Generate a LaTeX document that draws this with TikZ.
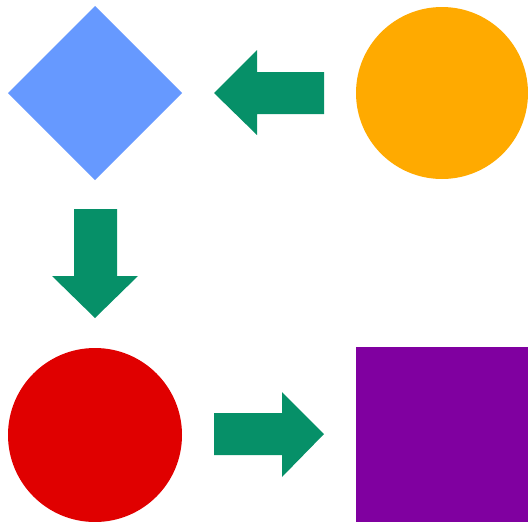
\documentclass[tikz,border=0pt]{standalone}
\usetikzlibrary{shapes.geometric}
\definecolor{bluedia}{HTML}{6699FF}
\definecolor{orangedot}{HTML}{FFAA00}
\definecolor{reddot}{HTML}{E00000}
\definecolor{purplebox}{HTML}{8000A0}
\definecolor{flowgreen}{HTML}{069068}
\tikzset{shp/.style={inner sep=0pt, outer sep=0pt, draw=none},
  flow/.style={fill=flowgreen}}

\begin{document}
\begin{tikzpicture}[x=1pt, y=-1pt]
  \useasboundingbox (0,0) rectangle (528,522);
  % shapes
  \node[shp, diamond, fill=bluedia, minimum width=174pt, minimum height=174pt] (dia) at (95,93) {};
  \node[shp, circle, fill=orangedot, minimum size=172pt] (orange) at (442,93) {};
  \node[shp, circle, fill=reddot, minimum size=174pt] (red) at (95,435) {};
  \node[shp, rectangle, fill=purplebox, minimum width=172pt, minimum height=175pt] (sq) at (442,434.5) {};
  % block arrows
  \fill[flow] (214,93) -- (257,50) -- (257,72) -- (324,72) -- (324,114) -- (257,114) -- (257,135) -- cycle;
  \fill[flow] (74,209) -- (117,209) -- (117,276) -- (138,276) -- (95,318) -- (52,276) -- (74,276) -- cycle;
  \fill[flow] (214,413) -- (282,413) -- (282,392) -- (324,434) -- (282,477) -- (282,455) -- (214,455) -- cycle;
\end{tikzpicture}
\end{document}
